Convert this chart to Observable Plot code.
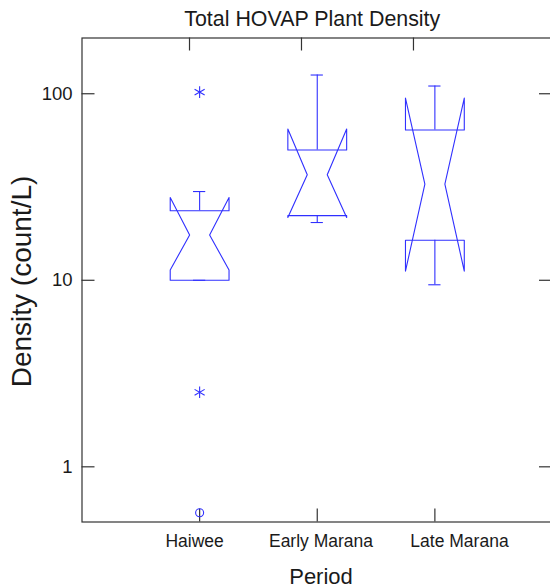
<!DOCTYPE html>
<html>
<head>
<meta charset="utf-8">
<script src="https://cdn.jsdelivr.net/npm/d3@7"></script>
<script src="https://cdn.jsdelivr.net/npm/@observablehq/plot@0.6"></script>
<style>
  html, body { margin: 0; padding: 0; background: #fff; overflow: hidden; }
</style>
</head>
<body>
<div id="chart"></div>
<script>
// Total HOVAP plant density by period (count/L), notched box plots on a log axis
const categories = ["Haiwee", "Early Marana", "Late Marana"];
const whiskerLow  = [10.0, 20.4, 9.46];
const q1          = [10.0, 22.2, 16.4];
const notchLow    = [11.35, 21.7, 11.2];
const median      = [17.5, 36.8, 32.8];
const notchHigh   = [27.8, 64.7, 94.8];
const q3          = [23.6, 49.9, 63.9];
const whiskerHigh = [29.9, 126, 110];

// outside values (*) and far outside values (o)
const outsidePeriod = ["Haiwee", "Haiwee"];
const outsideValue  = [102, 2.51];
const farPeriod     = ["Haiwee"];
const farValue      = [0.567];

const yTicks = [1, 10, 100];
const yTickLabels = ["1", "10", "100"];
const topTicks = [0.914, 1.866, 2.818];

// layout
const W = 550, H = 588;
const margin = {left: 81.5, right: -2, top: 37.5, bottom: 66.5};
const frameW = W - margin.left - margin.right;
const frameH = H - margin.top - margin.bottom;
const tickLen = 13;
const blue = "#3030ff";
const ink = "#333";
const textInk = "#1a1a1a";
const boxHalf = 0.25, waistHalf = 0.085, capHalf = 0.052;
const labelNudge = [-5, 3.75, 24.6];

const pos = categories.map((c, i) => i + 1);
const xOf = p => categories.indexOf(p) + 1;

const stats = categories.map((c, i) => ({
  period: c, x: pos[i],
  lo: whiskerLow[i], q1: q1[i], nlo: notchLow[i], med: median[i],
  nhi: notchHigh[i], q3: q3[i], hi: whiskerHigh[i]
}));

// notched outline: hinges at q1/q3, notch edges meeting at the median waist
const outline = stats.flatMap(s => [
  [s.x - boxHalf, s.q3], [s.x - boxHalf, s.nhi], [s.x - waistHalf, s.med],
  [s.x - boxHalf, s.nlo], [s.x - boxHalf, s.q1], [s.x + boxHalf, s.q1],
  [s.x + boxHalf, s.nlo], [s.x + waistHalf, s.med], [s.x + boxHalf, s.nhi],
  [s.x + boxHalf, s.q3], [s.x - boxHalf, s.q3]
].map(([x, y]) => ({period: s.period, x, y})));

const outside = outsidePeriod.map((p, i) => ({x: xOf(p), y: outsideValue[i]}));
const far = farPeriod.map((p, i) => ({x: xOf(p), y: farValue[i]}));

const font = "'Liberation Sans', Arial, sans-serif";

const chart = Plot.plot({
  width: W,
  height: H,
  marginLeft: margin.left,
  marginRight: margin.right,
  marginTop: margin.top,
  marginBottom: margin.bottom,
  style: {fontFamily: font, background: "#fff", color: textInk},
  x: {type: "linear", domain: [0, 4], axis: null},
  y: {type: "log", domain: [0.506, 199], axis: null},
  marks: [
    Plot.frame({stroke: ink, strokeWidth: 1.2}),
    // inward ticks on all four sides
    Plot.tickY(yTicks, {y: d => d, stroke: ink, strokeWidth: 1.2, insetRight: frameW - tickLen}),
    Plot.tickY(yTicks, {y: d => d, stroke: ink, strokeWidth: 1.2, insetLeft: frameW - tickLen}),
    Plot.tickX(pos, {x: d => d, stroke: ink, strokeWidth: 1.2, insetTop: frameH - tickLen}),
    Plot.tickX(topTicks, {x: d => d, stroke: ink, strokeWidth: 1.2, insetBottom: frameH - tickLen}),
    // y tick labels
    Plot.text(yTicks, {
      y: d => d, text: (d, i) => yTickLabels[i], frameAnchor: "left",
      textAnchor: "end", dx: -9.5, fontSize: 18.5, fill: textInk
    }),
    // category labels
    ...categories.map((c, i) => Plot.text([c], {
      x: () => pos[i], text: d => d, frameAnchor: "bottom", lineAnchor: "bottom",
      dy: 25.2, dx: labelNudge[i], fontSize: 17.5, fill: textInk
    })),
    // titles
    Plot.text(["Total HOVAP Plant Density"], {
      text: d => d, frameAnchor: "top", lineAnchor: "bottom", dy: -12.5, dx: -5,
      fontSize: 21.4, fill: textInk
    }),
    Plot.text(["Period"], {
      text: d => d, frameAnchor: "bottom", lineAnchor: "bottom", dy: 62, dx: 3.75,
      fontSize: 22, fill: textInk
    }),
    Plot.text(["Density (count/L)"], {
      text: d => d, frameAnchor: "left", textAnchor: "middle", lineAnchor: "bottom", rotate: -90,
      dx: 30 - margin.left, dy: 1.5, fontSize: 28, fill: textInk
    }),
    // boxes
    Plot.line(outline, {x: "x", y: "y", z: "period", stroke: blue, strokeWidth: 1.1}),
    Plot.ruleX(stats, {x: "x", y1: "q3", y2: "hi", stroke: blue, strokeWidth: 1.1}),
    Plot.ruleX(stats, {x: "x", y1: "q1", y2: "lo", stroke: blue, strokeWidth: 1.1}),
    Plot.ruleY(stats, {y: "hi", x1: d => d.x - capHalf, x2: d => d.x + capHalf, stroke: blue, strokeWidth: 1.1}),
    Plot.ruleY(stats, {y: "lo", x1: d => d.x - capHalf, x2: d => d.x + capHalf, stroke: blue, strokeWidth: 1.1}),
    Plot.dot(outside, {x: "x", y: "y", symbol: "asterisk", r: 5.5, stroke: blue, strokeWidth: 1.1}),
    Plot.dot(far, {x: "x", y: "y", symbol: "circle", r: 4, stroke: blue, strokeWidth: 1.1})
  ]
});

document.getElementById("chart").appendChild(chart);
</script>
</body>
</html>
